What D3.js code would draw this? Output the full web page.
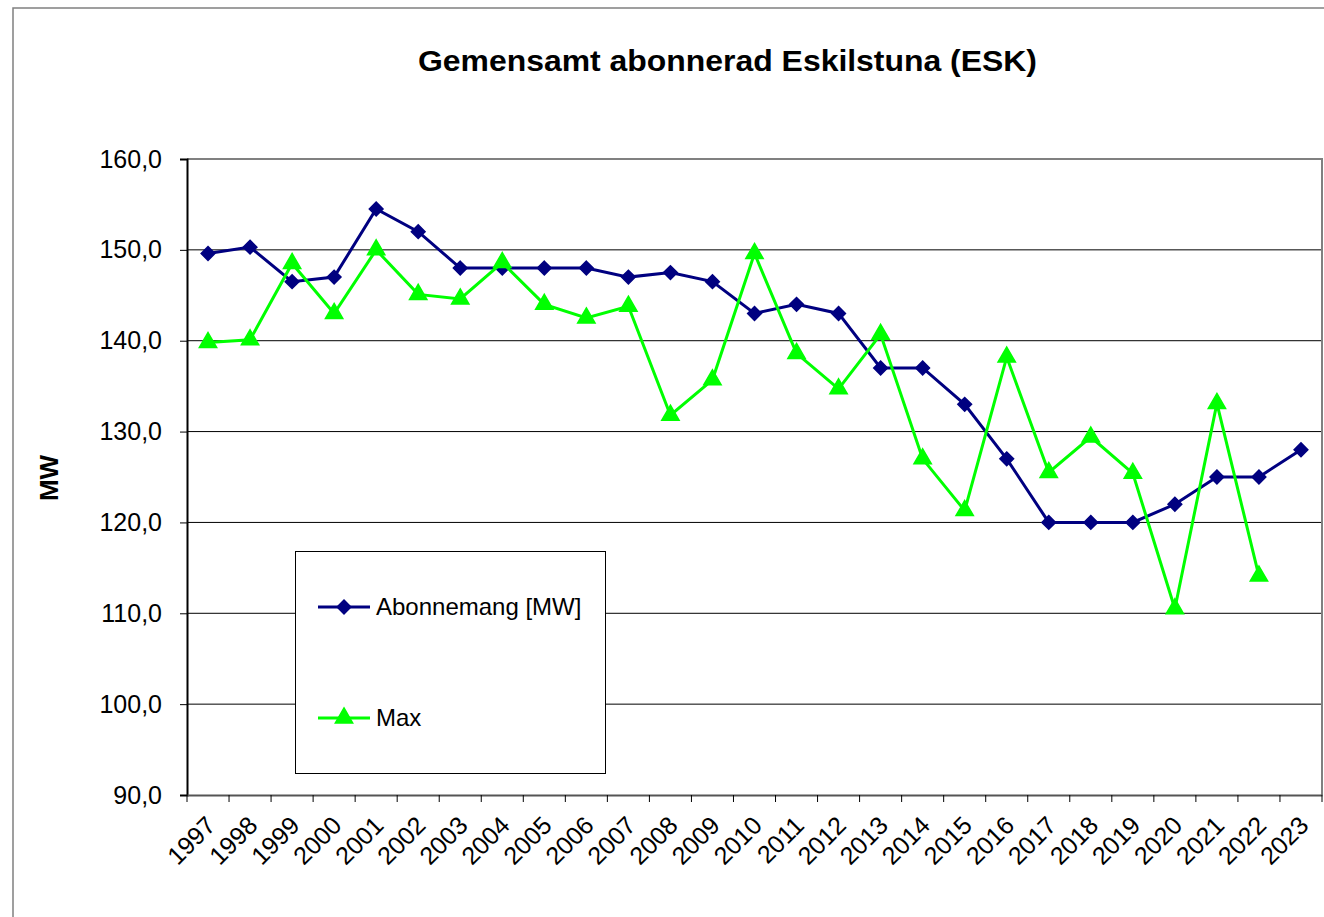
<!DOCTYPE html>
<html>
<head>
<meta charset="utf-8">
<script src="https://cdn.jsdelivr.net/npm/d3@7"></script>
<style>
  body { margin: 0; background: #fff; }
  svg { display: block; font-family: "Liberation Sans", Arial, sans-serif; }
</style>
</head>
<body>
<svg id="chart" width="1324" height="917"></svg>
<script>
// Subscribed vs. peak power per year, Eskilstuna
const years = ["1997","1998","1999","2000","2001","2002","2003","2004","2005","2006",
  "2007","2008","2009","2010","2011","2012","2013","2014","2015","2016",
  "2017","2018","2019","2020","2021","2022","2023"];
const abonnemang = [149.6,150.3,146.5,147.0,154.5,152.0,148.0,148.0,148.0,148.0,
  147.0,147.5,146.5,143.0,144.0,143.0,137.0,137.0,133.0,127.0,
  120.0,120.0,120.0,122.0,125.0,125.0,128.0];
const maxValues = [139.8,140.1,148.5,143.0,150.0,145.1,144.6,148.6,144.0,142.5,
  143.8,131.8,135.7,149.6,138.6,134.7,140.7,127.0,121.3,138.2,
  125.5,129.4,125.4,110.5,133.1,114.1,null];
const yTicks = [90,100,110,120,130,140,150,160];
const seriesNames = ["Abonnemang [MW]", "Max"];

const svg = d3.select("#chart");
const plotLeft = 187, plotRight = 1322, plotTop = 159, plotBottom = 795;

const x = d3.scaleBand().domain(years).range([plotLeft, plotRight]);
const y = d3.scaleLinear().domain([90, 160]).range([plotBottom, plotTop]);
const cx = d => x(d) + x.bandwidth() / 2;
const fmt = v => d3.format(".1f")(v).replace(".", ",");

// outer chart frame
svg.append("path")
  .attr("d", "M13,917V8H1324")
  .attr("fill", "none").attr("stroke", "#808080").attr("stroke-width", 1.5);

// title
svg.append("text")
  .attr("x", 727.5).attr("y", 71)
  .attr("text-anchor", "middle")
  .attr("font-size", 29).attr("font-weight", "bold")
  .attr("textLength", 619).attr("lengthAdjust", "spacingAndGlyphs")
  .text("Gemensamt abonnerad Eskilstuna (ESK)");

// horizontal gridlines
svg.append("g").selectAll("line")
  .data(yTicks.filter(t => t > 90 && t < 160))
  .join("line")
  .attr("x1", plotLeft).attr("x2", plotRight)
  .attr("y1", d => y(d)).attr("y2", d => y(d))
  .attr("stroke", "#000").attr("stroke-width", 1);

// plot area border (top and right)
svg.append("path")
  .attr("d", `M${plotLeft},${plotTop}H${plotRight}V${plotBottom}`)
  .attr("fill", "none").attr("stroke", "#808080").attr("stroke-width", 2);

// y axis
const yAxis = svg.append("g")
  .attr("transform", `translate(${plotLeft},0)`)
  .call(d3.axisLeft(y).tickValues(yTicks).tickFormat(fmt).tickSize(7).tickPadding(18));
yAxis.select(".domain").attr("stroke", "#000").attr("stroke-width", 2);
yAxis.selectAll(".tick line").attr("stroke", "#000").attr("stroke-width", 1);
yAxis.selectAll(".tick text")
  .attr("font-size", 25).attr("fill", "#000")
  .attr("font-family", "'Liberation Sans', Arial, sans-serif");

// x axis
const xAxis = svg.append("g")
  .attr("transform", `translate(0,${plotBottom})`)
  .call(d3.axisBottom(x).tickSize(0).tickFormat(""));
xAxis.select(".domain").attr("stroke", "#555").attr("stroke-width", 2);
xAxis.selectAll(".tick").remove();
svg.append("g").selectAll("line")
  .data(years.concat(["end"]))
  .join("line")
  .attr("x1", (d, i) => plotLeft + i * x.bandwidth())
  .attr("x2", (d, i) => plotLeft + i * x.bandwidth())
  .attr("y1", plotBottom).attr("y2", plotBottom + 7)
  .attr("stroke", "#000").attr("stroke-width", 1);
svg.append("g").selectAll("text")
  .data(years)
  .join("text")
  .attr("transform", d => `translate(${cx(d) + 9},${plotBottom + 32}) rotate(-45)`)
  .attr("text-anchor", "end")
  .attr("font-size", 25)
  .text(d => d);

// y axis title
svg.append("text")
  .attr("transform", "translate(58,478) rotate(-90)")
  .attr("text-anchor", "middle")
  .attr("font-size", 26).attr("font-weight", "bold")
  .text("MW");

// series
const navy = "#000080", green = "#00ff00";
const lineGen = d3.line()
  .defined(d => d.v != null)
  .x(d => cx(d.year)).y(d => y(d.v));

const aData = years.map((yr, i) => ({ year: yr, v: abonnemang[i] }));
const mData = years.map((yr, i) => ({ year: yr, v: maxValues[i] }));

const diamond = d3.symbol().type(d3.symbolDiamond2).size(120);
const triangle = d3.symbol().type(d3.symbolTriangle).size(130);

svg.append("path").datum(aData)
  .attr("d", lineGen).attr("fill", "none")
  .attr("stroke", navy).attr("stroke-width", 3);
svg.append("g").selectAll("path")
  .data(aData)
  .join("path")
  .attr("d", diamond)
  .attr("transform", d => `translate(${cx(d.year)},${y(d.v)})`)
  .attr("fill", navy).attr("stroke", navy).attr("stroke-width", 1.5);

svg.append("path").datum(mData)
  .attr("d", lineGen).attr("fill", "none")
  .attr("stroke", green).attr("stroke-width", 3);
svg.append("g").selectAll("path")
  .data(mData.filter(d => d.v != null))
  .join("path")
  .attr("d", triangle)
  .attr("transform", d => `translate(${cx(d.year)},${y(d.v)})`)
  .attr("fill", green).attr("stroke", green).attr("stroke-width", 1.5);

// legend
const legend = svg.append("g");
legend.append("rect")
  .attr("x", 295.5).attr("y", 551.5).attr("width", 310).attr("height", 222)
  .attr("fill", "#fff").attr("stroke", "#000").attr("stroke-width", 1);
const legendItems = [
  { name: seriesNames[0], color: navy, sym: diamond, ly: 607 },
  { name: seriesNames[1], color: green, sym: triangle, ly: 718 }
];
legendItems.forEach(it => {
  legend.append("line")
    .attr("x1", 318).attr("x2", 370).attr("y1", it.ly).attr("y2", it.ly)
    .attr("stroke", it.color).attr("stroke-width", 3);
  legend.append("path")
    .attr("d", it.sym)
    .attr("transform", `translate(344,${it.ly})`)
    .attr("fill", it.color).attr("stroke", it.color).attr("stroke-width", 1.5);
  legend.append("text")
    .attr("x", 376).attr("y", it.ly + 8)
    .attr("font-size", 24)
    .text(it.name);
});
</script>
</body>
</html>
